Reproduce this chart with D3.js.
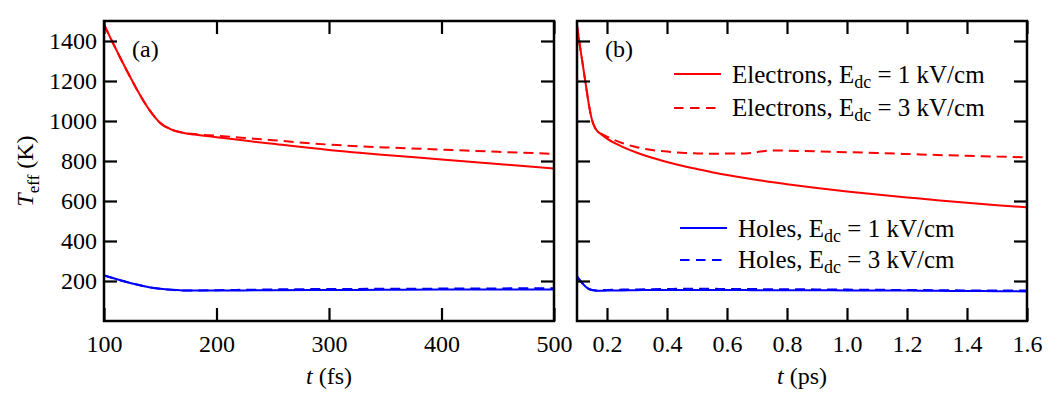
<!DOCTYPE html>
<html>
<head>
<meta charset="utf-8">
<script src="https://cdn.jsdelivr.net/npm/d3@7"></script>
<style>
  html, body { margin: 0; padding: 0; background: #fff; }
</style>
</head>
<body>
<div id="chart"></div>
<script>
// panel (a): time in fs
const tFs = [100, 110, 120, 130, 140, 150, 160, 170, 180, 200, 225, 250, 300, 350, 400, 450, 500];
const elec1Fs = [1483, 1366, 1255, 1150, 1058, 990, 957, 941, 932, 919, 902, 886, 855, 830, 808, 785, 763];
const elec3Fs = [1483, 1366, 1255, 1150, 1058, 990, 957, 942, 935, 926, 915, 904, 882, 868, 857, 846, 836];
const holes1Fs = [228, 211, 195, 181, 169, 161, 156, 153, 152, 152, 153, 154, 155, 156, 157, 157, 157];
const holes3Fs = [228, 211, 195, 181, 169, 161, 156, 153, 153, 154, 156, 158, 160, 161, 162, 163, 164];

// panel (b): time in ps
const tPs = [0.1, 0.11, 0.12, 0.13, 0.14, 0.15, 0.16, 0.17, 0.18, 0.2, 0.25, 0.3, 0.35, 0.4, 0.45, 0.5, 0.55, 0.6, 0.65, 0.68, 0.72, 0.76, 0.8, 0.9, 1.0, 1.1, 1.2, 1.3, 1.4, 1.5, 1.6];
const elec1Ps = [1480, 1372, 1275, 1175, 1078, 1005, 966, 946, 934, 912, 872, 841, 816, 795, 776, 760, 744, 730, 717, 710, 701, 692, 684, 665, 648, 632, 618, 604, 591, 579, 568];
const elec3Ps = [1480, 1372, 1275, 1175, 1078, 1005, 966, 947, 937, 922, 890, 869, 855, 847, 841, 838, 836, 837, 837, 840, 849, 853, 852, 848, 844, 840, 835, 830, 826, 822, 818];
const holes1Ps = [224, 203, 185, 170, 160, 155, 152, 151, 151, 152, 153, 154, 155, 155, 155, 155, 155, 155, 155, 154, 154, 154, 154, 154, 153, 153, 152, 151, 150, 149, 148];
const holes3Ps = [224, 203, 185, 170, 160, 155, 153, 153, 154, 155, 157, 158, 159, 160, 161, 161, 161, 160, 160, 160, 159, 159, 159, 158, 157, 156, 155, 154, 153, 152, 152];

const yTicks = [200, 400, 600, 800, 1000, 1200, 1400];
const xTicksFs = [100, 200, 300, 400, 500];
const xTicksPs = [0.2, 0.4, 0.6, 0.8, 1.0, 1.2, 1.4, 1.6];

const legendItems = [
  { name: "Electrons", field: "1", color: "#ff0000", dash: null },
  { name: "Electrons", field: "3", color: "#ff0000", dash: "9.5,6.5" },
  { name: "Holes", field: "1", color: "#0000ff", dash: null },
  { name: "Holes", field: "3", color: "#0000ff", dash: "9.5,6.5" }
];

const FONT = '"Liberation Serif", "DejaVu Serif", serif';
const width = 1063, height = 405;
const plotTop = 21, plotBottom = 321;
const tickLen = 13;

const svg = d3.select("#chart").append("svg")
  .attr("width", width)
  .attr("height", height)
  .attr("font-family", FONT);

const y = d3.scaleLinear().domain([0, 1500]).range([plotBottom, plotTop]);

function drawPanel(opts) {
  const x = d3.scaleLinear().domain(opts.domain).range(opts.range);
  const g = svg.append("g");
  const clipId = "clip-" + opts.tag;

  svg.append("clipPath").attr("id", clipId)
    .append("rect")
    .attr("x", opts.range[0]).attr("y", plotTop)
    .attr("width", opts.range[1] - opts.range[0]).attr("height", plotBottom - plotTop);

  const line = d3.line()
    .x(d => x(d[0]))
    .y(d => y(d[1]))
    .curve(d3.curveMonotoneX);

  opts.series.forEach(s => {
    g.append("path")
      .datum(opts.t.map((t, i) => [t, s.values[i]]))
      .attr("clip-path", `url(#${clipId})`)
      .attr("fill", "none")
      .attr("stroke", s.color)
      .attr("stroke-width", 2)
      .attr("stroke-dasharray", s.dash)
      .attr("d", line);
  });

  // ticks pointing inward on all four sides
  const styleAxis = sel => {
    sel.attr("font-family", FONT).attr("font-size", 24);
    sel.select(".domain").remove();
    sel.selectAll("line").attr("stroke", "#000").attr("stroke-width", 2.2);
    sel.selectAll("text").attr("fill", "#000");
  };

  g.append("g")
    .attr("transform", `translate(0,${plotBottom})`)
    .call(d3.axisBottom(x).tickValues(opts.xTicks).tickSize(-tickLen).tickPadding(14).tickFormat(opts.fmt))
    .call(styleAxis);

  g.append("g")
    .attr("transform", `translate(0,${plotTop})`)
    .call(d3.axisTop(x).tickValues(opts.xTicks).tickSize(-tickLen).tickFormat(""))
    .call(styleAxis);

  g.append("g")
    .attr("transform", `translate(${opts.range[0]},0)`)
    .call(d3.axisLeft(y).tickValues(yTicks).tickSize(-tickLen).tickPadding(7)
      .tickFormat(opts.yLabels ? d3.format("d") : ""))
    .call(styleAxis);

  g.append("g")
    .attr("transform", `translate(${opts.range[1]},0)`)
    .call(d3.axisRight(y).tickValues(yTicks).tickSize(-tickLen).tickFormat(""))
    .call(styleAxis);

  g.append("rect")
    .attr("x", opts.range[0]).attr("y", plotTop)
    .attr("width", opts.range[1] - opts.range[0]).attr("height", plotBottom - plotTop)
    .attr("fill", "none")
    .attr("stroke", "#000")
    .attr("stroke-width", 2.5);

  g.append("text")
    .attr("x", opts.range[0] + 28)
    .attr("y", 57)
    .attr("font-size", 24)
    .text(opts.tag === "a" ? "(a)" : "(b)");

  const xt = g.append("text")
    .attr("x", (opts.range[0] + opts.range[1]) / 2)
    .attr("y", 384)
    .attr("text-anchor", "middle")
    .attr("font-size", 24);
  xt.append("tspan").attr("font-style", "italic").text("t");
  xt.append("tspan").text(" " + opts.unit);

  return x;
}

drawPanel({
  tag: "a", domain: [100, 500], range: [104, 554], t: tFs,
  xTicks: xTicksFs, fmt: d3.format("d"), yLabels: true, unit: "(fs)",
  series: [
    { values: elec1Fs, color: "#ff0000", dash: null },
    { values: elec3Fs, color: "#ff0000", dash: "10,6" },
    { values: holes1Fs, color: "#0000ff", dash: null },
    { values: holes3Fs, color: "#0000ff", dash: "10,6" }
  ]
});

drawPanel({
  tag: "b", domain: [0.1, 1.6], range: [577, 1027], t: tPs,
  xTicks: xTicksPs, fmt: d3.format(".1f"), yLabels: false, unit: "(ps)",
  series: [
    { values: elec1Ps, color: "#ff0000", dash: null },
    { values: elec3Ps, color: "#ff0000", dash: "10,6" },
    { values: holes1Ps, color: "#0000ff", dash: null },
    { values: holes3Ps, color: "#0000ff", dash: "10,6" }
  ]
});

// y axis title
const yt = svg.append("text")
  .attr("transform", `translate(33,${(plotTop + plotBottom) / 2}) rotate(-90)`)
  .attr("text-anchor", "middle")
  .attr("font-size", 24);
yt.append("tspan").attr("font-style", "italic").text("T");
yt.append("tspan").attr("dy", 6).attr("font-size", 17).text("eff");
yt.append("tspan").attr("dy", -6).text(" (K)");

// legend in panel (b)
const legendPos = [
  { lx: 674, ly: 74, len: 47, tx: 732, ty: 83 },
  { lx: 674, ly: 108, len: 42, tx: 732, ty: 116 },
  { lx: 680, ly: 228, len: 47, tx: 738, ty: 237 },
  { lx: 680, ly: 260, len: 42, tx: 738, ty: 268 }
];

const leg = svg.append("g");
legendItems.forEach((d, i) => {
  const p = legendPos[i];
  leg.append("line")
    .attr("x1", p.lx).attr("x2", p.lx + p.len)
    .attr("y1", p.ly).attr("y2", p.ly)
    .attr("stroke", d.color)
    .attr("stroke-width", 2)
    .attr("stroke-dasharray", d.dash);
  const t = leg.append("text")
    .attr("x", p.tx).attr("y", p.ty)
    .attr("font-size", 25);
  t.append("tspan").text(d.name + ", E");
  t.append("tspan").attr("dy", 5).attr("font-size", 18).text("dc");
  t.append("tspan").attr("dy", -5).text(` = ${d.field} kV/cm`);
});
</script>
</body>
</html>
